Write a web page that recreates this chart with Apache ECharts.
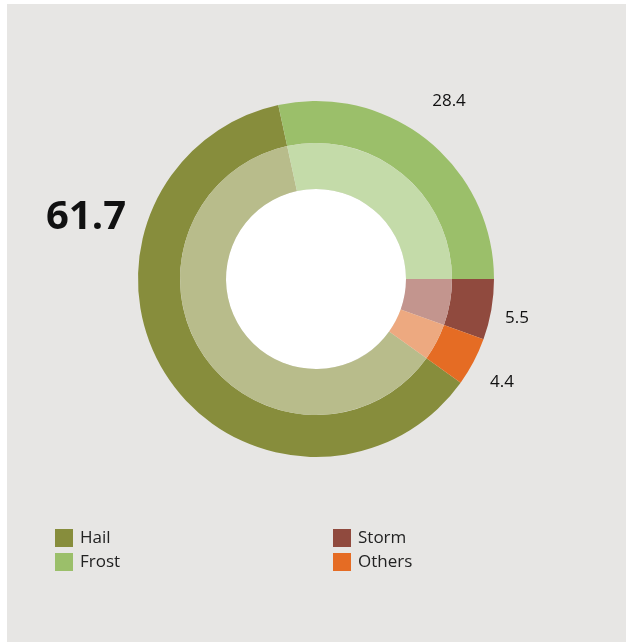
<!DOCTYPE html>
<html>
<head>
<meta charset="utf-8">
<script src="https://cdn.jsdelivr.net/npm/echarts@6/dist/echarts.min.js"></script>
<style>
  html, body { margin: 0; padding: 0; background: #ffffff; }
  #panel { position: absolute; left: 7px; top: 4px; width: 619px; height: 638px; background: #e7e6e4; }
  #chart { position: absolute; left: 0; top: 0; width: 626px; height: 642px; }
</style>
</head>
<body>
<div id="panel"></div>
<div id="chart"></div>
<script>
// Damage causes, share in percent
const categories = ['Hail', 'Frost', 'Storm', 'Others'];
const values = [61.7, 28.4, 5.5, 4.4];
const strongColors = ['#878d3c', '#9bbf6a', '#904a3e', '#e56c24'];
const lightColors = ['#b8bc8b', '#c4dba9', '#c3958e', '#eda980'];

const total = values.reduce((a, b) => a + b, 0);
// Frost ends at 3 o'clock; Storm and Others follow clockwise below it
const startAngle = -360 * (values[2] + values[3]) / total;

// Label anchor points per category (screen coordinates)
const labelSpots = [
  { x: 86, y: 218, size: 40, weight: 'bold' },
  { x: 449, y: 101, size: 17, weight: 'normal' },
  { x: 517, y: 318, size: 17, weight: 'normal' },
  { x: 502, y: 382, size: 17, weight: 'normal' }
];

const chart = echarts.init(document.getElementById('chart'), null, { renderer: 'canvas' });

const outerData = categories.map((name, i) => ({
  name,
  value: values[i],
  itemStyle: { color: strongColors[i] },
  label: { fontSize: labelSpots[i].size, fontWeight: labelSpots[i].weight }
}));
const innerData = categories.map((name, i) => ({
  name,
  value: values[i],
  itemStyle: { color: lightColors[i] }
}));

const legendBase = {
  orient: 'vertical',
  top: 529,
  padding: 0,
  itemWidth: 18, itemHeight: 18, itemGap: 6,
  icon: 'rect',
  textStyle: { fontSize: 17, color: '#222', fontFamily: 'Open Sans', padding: [0, 0, 0, 2] }
};

chart.setOption({
  backgroundColor: 'transparent',
  animation: false,
  textStyle: { fontFamily: 'Open Sans' },
  legend: [
    Object.assign({ data: categories.slice(0, 2), left: 55 }, legendBase),
    Object.assign({ data: categories.slice(2), left: 333 }, legendBase)
  ],
  series: [
    {
      type: 'pie',
      center: [316, 279],
      radius: [136, 178],
      startAngle: startAngle,
      clockwise: true,
      silent: true,
      data: outerData,
      label: {
        show: true,
        position: 'outside',
        formatter: (p) => p.value.toFixed(1),
        color: '#111',
        fontFamily: 'Open Sans'
      },
      labelLine: { show: false },
      labelLayout: (params) => {
        const s = labelSpots[params.dataIndex];
        return { x: s.x, y: s.y, align: 'center', verticalAlign: 'middle' };
      }
    },
    {
      type: 'pie',
      center: [316, 279],
      radius: [90, 136],
      startAngle: startAngle,
      clockwise: true,
      silent: true,
      data: innerData,
      label: { show: false },
      labelLine: { show: false }
    }
  ],
  graphic: [
    {
      type: 'circle',
      shape: { cx: 316, cy: 279, r: 90 },
      style: { fill: '#ffffff' },
      silent: true
    }
  ]
});
</script>
</body>
</html>
